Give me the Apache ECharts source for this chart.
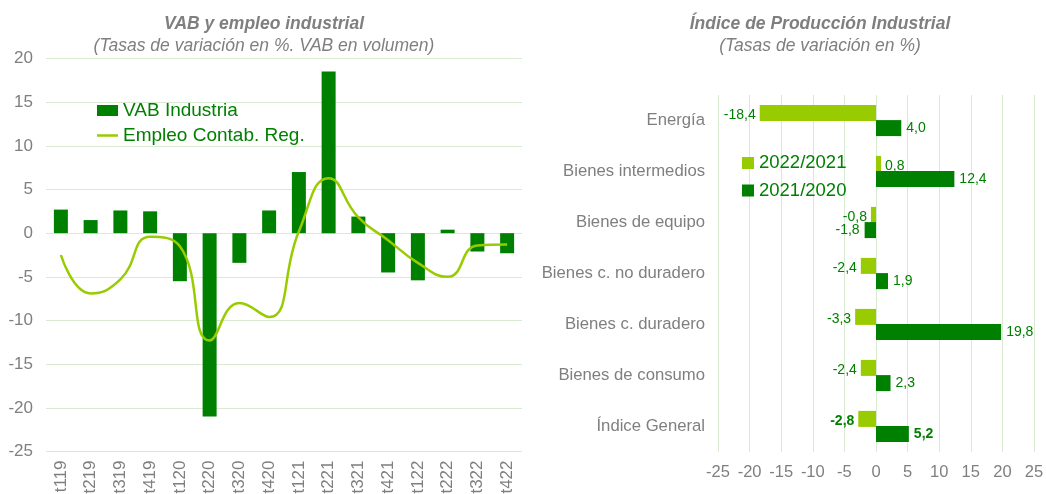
<!DOCTYPE html>
<html>
<head>
<meta charset="utf-8" />
<title>ECharts</title>
<script src="https://cdn.jsdelivr.net/npm/echarts@6.0.0/dist/echarts.min.js"></script>
</head>
<body style="margin:0">
<div id="main" style="width:1046px;height:494px;"></div>
<script type="text/javascript">
const quarters = ['t119', 't219', 't319', 't419', 't120', 't220', 't320', 't420',
    't121', 't221', 't321', 't421', 't122', 't222', 't322', 't422'];
const vabIndustria = [2.7, 1.5, 2.6, 2.5, -5.5, -21.0, -3.4, 2.6, 7.0, 18.5, 1.9, -4.5, -5.4, 0.4, -2.1, -2.3];
const empleo = [-2.5, -6.9, -5.3, -0.4, -1.5, -12.3, -8.0, -9.6, 0.2, 6.3, 1.8, -0.8, -3.4, -5.0, -1.4, -1.3];

const sectores = ['Energía', 'Bienes intermedios', 'Bienes de equipo', 'Bienes c. no duradero',
    'Bienes c. duradero', 'Bienes de consumo', 'Índice General'];
const ipi2022 = [-18.4, 0.8, -0.8, -2.4, -3.3, -2.4, -2.8];
const ipi2021 = [4.0, 12.4, -1.8, 1.9, 19.8, 2.3, 5.2];

const DARK = '#008000';
const LIGHT = '#99cc00';
const GRID = '#d9ead3';
const GREY = '#7f7f7f';
const FONT = 'Liberation Sans, Arial, sans-serif';

const myChart = echarts.init(document.getElementById('main'));

// etiquetas a la izquierda si negativo, a la derecha si positivo; Índice General en negrita
const ipiData = (arr, dy) => arr.map((v, i) => ({
    value: v,
    label: {
        position: v < 0 ? 'left' : 'right',
        offset: [0, dy],
        fontWeight: i === sectores.length - 1 ? 'bold' : 'normal'
    }
}));

const fmt = (p) => p.value.toFixed(1).replace('.', ',');

const titleStyle = { fontFamily: FONT, fontSize: 17.5, fontWeight: 'bold', fontStyle: 'italic', color: GREY };
const subStyle = { fontFamily: FONT, fontSize: 17.5, fontStyle: 'italic', color: GREY };
const legendText = (size) => ({ fontFamily: FONT, fontSize: size, color: DARK, lineHeight: 20 });

const option = {
    animation: false,
    textStyle: { fontFamily: FONT },
    title: [
        {
            text: 'VAB y empleo industrial',
            subtext: '(Tasas de variación en %. VAB en volumen)',
            left: 264, top: 15.5, textAlign: 'center', itemGap: 4, padding: 0,
            textStyle: titleStyle, subtextStyle: subStyle
        },
        {
            text: 'Índice de Producción Industrial',
            subtext: '(Tasas de variación en %)',
            left: 820, top: 15.5, textAlign: 'center', itemGap: 4, padding: 0,
            textStyle: titleStyle, subtextStyle: subStyle
        }
    ],
    legend: [
        {
            data: ['VAB Industria'],
            left: 97, top: 100.5, padding: 0,
            itemWidth: 21, itemHeight: 11, icon: 'rect',
            textStyle: legendText(19)
        },
        {
            data: ['Empleo Contab. Reg.'],
            left: 97, top: 125.5, padding: 0,
            itemWidth: 21, itemHeight: 2.5, icon: 'rect',
            textStyle: legendText(19)
        },
        {
            data: ['2022/2021', '2021/2020'],
            orient: 'vertical', left: 742, top: 153, padding: 0,
            itemWidth: 12, itemHeight: 12, itemGap: 7.5,
            icon: 'rect',
            textStyle: legendText(18.5)
        }
    ],
    grid: [
        { left: 46, right: 524, top: 58.5, bottom: 42.5, outerBoundsMode: 'none' },
        { left: 718, right: 12, top: 95, bottom: 42, outerBoundsMode: 'none' }
    ],
    xAxis: [
        {
            type: 'category', gridIndex: 0, data: quarters,
            axisLine: { show: false }, axisTick: { show: false },
            axisLabel: { rotate: 90, color: GREY, fontSize: 17, margin: 9, fontFamily: FONT }
        },
        {
            type: 'value', gridIndex: 1, min: -25, max: 25, interval: 5,
            axisLine: { show: false }, axisTick: { show: false },
            splitLine: { show: true, lineStyle: { color: GRID } },
            axisLabel: { color: GREY, fontSize: 16.5, margin: 12, fontFamily: FONT }
        }
    ],
    yAxis: [
        {
            type: 'value', gridIndex: 0, min: -25, max: 20, interval: 5,
            axisLine: { show: false }, axisTick: { show: false },
            splitLine: { show: true, lineStyle: { color: GRID } },
            axisLabel: { color: GREY, fontSize: 17, margin: 13, fontFamily: FONT }
        },
        {
            type: 'category', gridIndex: 1, data: sectores, inverse: true,
            axisLine: { show: false }, axisTick: { show: false },
            axisLabel: { color: GREY, fontSize: 16.7, margin: 13, fontFamily: FONT }
        }
    ],
    series: [
        {
            name: 'VAB Industria', type: 'bar',
            xAxisIndex: 0, yAxisIndex: 0,
            data: vabIndustria, barWidth: 14,
            itemStyle: { color: DARK }
        },
        {
            name: 'Empleo Contab. Reg.', type: 'line',
            xAxisIndex: 0, yAxisIndex: 0,
            data: empleo, smooth: 0.5, symbol: 'none',
            lineStyle: { color: LIGHT, width: 2.5 },
            itemStyle: { color: LIGHT }
        },
        {
            name: '2022/2021', type: 'bar',
            xAxisIndex: 1, yAxisIndex: 1,
            data: ipiData(ipi2022, 2), barWidth: 16, barGap: '-5%',
            itemStyle: { color: LIGHT },
            label: { show: true, color: DARK, fontSize: 14, distance: 4, formatter: fmt, fontFamily: FONT }
        },
        {
            name: '2021/2020', type: 'bar',
            xAxisIndex: 1, yAxisIndex: 1,
            data: ipiData(ipi2021, 0), barWidth: 16, barGap: '-5%',
            itemStyle: { color: DARK },
            label: { show: true, color: DARK, fontSize: 14, distance: 5, formatter: fmt, fontFamily: FONT }
        }
    ]
};
myChart.setOption(option);
</script>
</body>
</html>
